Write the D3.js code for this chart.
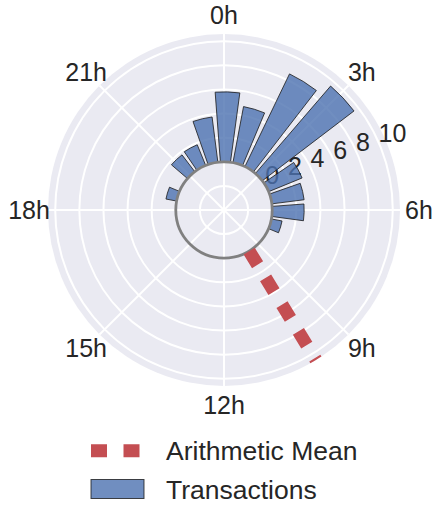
<!DOCTYPE html>
<html>
<head>
<meta charset="utf-8">
<script src="https://cdn.jsdelivr.net/npm/d3@7/dist/d3.min.js"></script>
<style>
  body { margin: 0; background: #fff; }
  text { font-family: "Liberation Sans", Arial, sans-serif; fill: #262626; }
</style>
</head>
<body>
<svg id="chart" width="435" height="506"></svg>
<script>

// data
var hours        = [0, 1, 2, 3, 4, 5, 6, 7, 8, 9, 10, 11, 12, 13, 14, 15, 16, 17, 18, 19, 20, 21, 22, 23];
var transactions = [5.8, 4.73, 8.53, 9.56, 3.0, 2.7, 2.65, 0.9, 0, 0, 0, 0, 0, 0, 0, 0, 0, 0, 0, 0.9, 0, 1.75, 1.85, 3.78];
var tickHours    = [0, 3, 6, 9, 12, 15, 18, 21];
var tickLabels   = ["0h", "3h", "6h", "9h", "12h", "15h", "18h", "21h"];
var rTicks       = [0, 2, 4, 6, 8, 10];
var rGrid        = [-2, 0, 2, 4, 6, 8, 10];
var meanHour     = 9.9;
var legendLabels = ["Arithmetic Mean", "Transactions"];

var rOrigin = -4, rMax = 10.6;

var svg = d3.select("#chart");
var cx = 224, cy = 210, R = 176;

var rScale = d3.scaleLinear().domain([rOrigin, rMax]).range([0, R]);
var aScale = d3.scaleLinear().domain([0, 24]).range([0, 2 * Math.PI]);

var barOffset = 1.7 * Math.PI / 180;   // bars sit a little clockwise of the hour
var barWidth  = aScale(0.8);

function px(a, r){ return cx + r * Math.sin(a); }
function py(a, r){ return cy - r * Math.cos(a); }

var g = svg.append("g");

svg.append("clipPath")
    .attr("id", "polclip")
    .append("circle")
        .attr("cx", cx).attr("cy", cy).attr("r", R);

// background
g.append("circle")
    .attr("cx", cx).attr("cy", cy).attr("r", R)
    .attr("fill", "#EAEAF2");

// grid rings
g.selectAll(".ring").data(rGrid).enter()
  .append("circle")
    .attr("class", "ring")
    .attr("cx", cx).attr("cy", cy)
    .attr("r", function(d){ return rScale(d); })
    .attr("fill", "none")
    .attr("stroke", "#fff")
    .attr("stroke-width", 2);

// spokes
g.selectAll(".spoke").data(tickHours).enter()
  .append("line")
    .attr("class", "spoke")
    .attr("x1", cx).attr("y1", cy)
    .attr("x2", function(d){ return px(aScale(d), R); })
    .attr("y2", function(d){ return py(aScale(d), R); })
    .attr("stroke", "#fff")
    .attr("stroke-width", 2);

// radial labels (under the bars)
var rLabAngle = 70 * Math.PI / 180;
g.selectAll(".rlab").data(rTicks).enter()
  .append("text")
    .attr("class", "rlab")
    .attr("x", function(d){ return px(rLabAngle, rScale(d)) - 4; })
    .attr("y", function(d){ return py(rLabAngle, rScale(d)) - 10; })
    .attr("font-size", 25)
    .text(function(d){ return d; });

// bars
var arc = d3.arc();
var bars = hours.map(function(h, i){ return [h, transactions[i]]; })
                .filter(function(d){ return d[1] > 0; });

g.append("g")
    .attr("transform", "translate(" + cx + "," + cy + ")")
  .selectAll("path").data(bars).enter()
  .append("path")
    .attr("d", function(d){
        var a = aScale(d[0]) + barOffset;
        return arc({innerRadius: rScale(0), outerRadius: rScale(d[1]),
                    startAngle: a - barWidth / 2, endAngle: a + barWidth / 2});
    })
    .attr("fill", "#4C72B0").attr("fill-opacity", 0.8)
    .attr("stroke", "#1a1a1a").attr("stroke-opacity", 0.8)
    .attr("stroke-width", 1);

// hole edge
g.append("circle")
    .attr("cx", cx).attr("cy", cy).attr("r", rScale(0))
    .attr("fill", "none")
    .attr("stroke", "#808080")
    .attr("stroke-width", 2.8);

// mean line
var ma = aScale(meanHour);
g.append("line")
    .attr("clip-path", "url(#polclip)")
    .attr("x1", px(ma, rScale(0))).attr("y1", py(ma, rScale(0)))
    .attr("x2", px(ma, rScale(rMax + 2))).attr("y2", py(ma, rScale(rMax + 2)))
    .attr("stroke", "#C44E52")
    .attr("stroke-width", 13)
    .attr("stroke-dasharray", "16,15.4");

// angular labels
g.selectAll(".tlab").data(tickHours).enter()
  .append("text")
    .attr("class", "tlab")
    .attr("x", function(d){ return px(aScale(d), 195); })
    .attr("y", function(d){ return py(aScale(d), 195) + 9; })
    .attr("text-anchor", "middle")
    .attr("font-size", 25)
    .text(function(d, i){ return tickLabels[i]; });

// legend
var leg = svg.append("g");
leg.append("line")
    .attr("x1", 91).attr("y1", 450.7)
    .attr("x2", 139.5).attr("y2", 450.7)
    .attr("stroke", "#C44E52")
    .attr("stroke-width", 13)
    .attr("stroke-dasharray", "16,16.5");
leg.append("rect")
    .attr("x", 91).attr("y", 479.5)
    .attr("width", 53).attr("height", 19)
    .attr("fill", "#4C72B0").attr("fill-opacity", 0.8)
    .attr("stroke", "#1a1a1a").attr("stroke-opacity", 0.8)
    .attr("stroke-width", 1);
leg.selectAll("text").data(legendLabels).enter()
  .append("text")
    .attr("x", 166)
    .attr("y", function(d, i){ return 460 + i * 38.5; })
    .attr("font-size", 26.5)
    .text(function(d){ return d; });

</script>
</body>
</html>
